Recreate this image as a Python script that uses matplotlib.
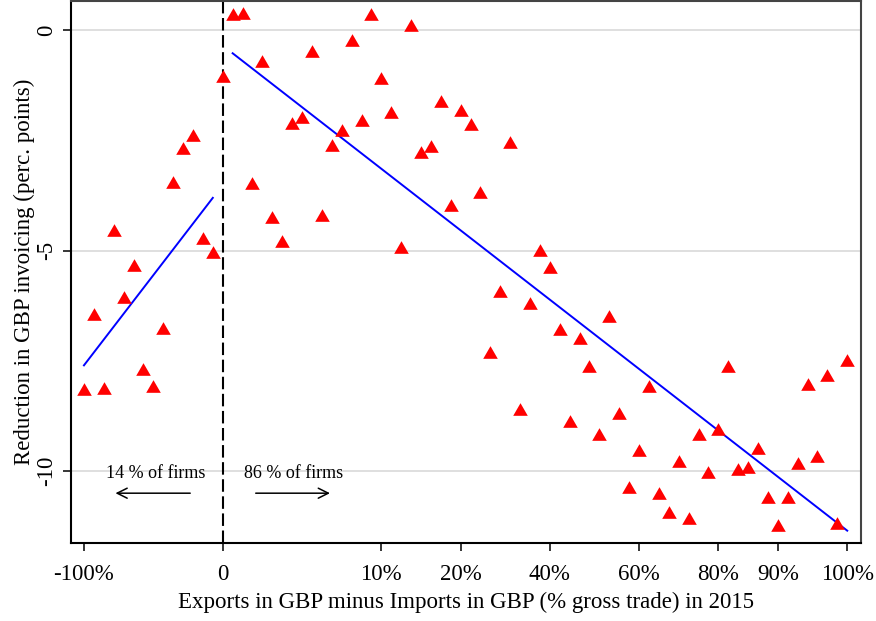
import numpy as np
import matplotlib
matplotlib.use('Agg')
import matplotlib.pyplot as plt

plt.rcParams['font.family'] = ['Liberation Serif', 'DejaVu Serif']

# binned firms, ordered by net GBP position (x = bin rank)
reduction_left = [
	-8.14, -6.44, -8.12, -4.54, -6.05, -5.33, -7.69, -8.07, -6.76, -3.45,
	-2.68, -2.38, -4.72, -5.03,
]
reduction_zero = [-1.04]
reduction_right = [
	0.36, 0.39, -3.47, -0.70, -4.24, -4.78, -2.11, -1.97, -0.48, -4.20,
	-2.61, -2.27, -0.23, -2.04, 0.36, -1.07, -1.86, -4.92, 0.11, -2.77,
	-2.63, -1.61, -3.97, -1.81, -2.13, -3.67, -7.30, -5.92, -2.54, -8.59,
	-6.19, -4.99, -5.37, -6.78, -8.87, -6.98, -7.62, -9.16, -6.49, -8.68,
	-10.36, -9.52, -8.07, -10.50, -10.93, -9.77, -11.07, -9.16, -10.02, -9.05,
	-7.62, -9.95, -9.91, -9.48, -10.59, -11.22, -10.59, -9.82, -8.03, -9.66,
	-7.82, -11.18, -7.48,
]

# fitted lines (start, end)
fit_left = [-7.6, -3.8]
fit_right = [-0.52, -11.35]

tick_labels = ['-100%', '0', '10%', '20%', '40%', '60%', '80%', '90%', '100%']
tick_bins = [0, 14, 30, 38, 47, 56, 64, 70, 77]

values = np.array(reduction_left + reduction_zero + reduction_right)
bins = np.arange(len(values))
n_left = len(reduction_left)
zero_bin = n_left

fig = plt.figure(figsize=(8.76, 6.21), dpi=100)
ax = fig.add_axes([0.081, 0.1256, 0.902, 0.8724])

for y in [0, -5, -10]:
	ax.axhline(y, color='#dcdcdc', linewidth=1.3, zorder=0)

ax.axvline(zero_bin, color='black', linewidth=1.5, linestyle=(0, (6, 2.2)), zorder=1)

tri = [(-1, -0.866), (1, -0.866), (0, 0.866)]
ax.plot(bins, values, linestyle='none', marker=tri, markersize=10.5,
	color='#ff0000', markeredgewidth=0, zorder=3)

ax.plot([bins[0], bins[n_left - 1]], fit_left, color='#0000ff', linewidth=1.4, zorder=2)
ax.plot([bins[n_left + 1], bins[-1]], fit_right, color='#0000ff', linewidth=1.4, zorder=2)

ax.text(7.2, -10.05, '14 % of firms', ha='center', va='center', fontsize=13)
ax.text(21.1, -10.05, '86 % of firms', ha='center', va='center', fontsize=13)
ax.annotate('', xy=(2.9, -10.5), xytext=(11.0, -10.5),
	arrowprops=dict(arrowstyle='->', color='black', lw=1.1, mutation_scale=18))
ax.annotate('', xy=(25.1, -10.5), xytext=(17.05, -10.5),
	arrowprops=dict(arrowstyle='->', color='black', lw=1.1, mutation_scale=18))

ax.set_xlim(-1.31, 78.4)
ax.set_ylim(-11.63, 0.66)
ax.set_xticks(tick_bins)
ax.set_xticklabels(tick_labels)
ax.set_yticks([0, -5, -10])
ax.set_yticklabels(['0', '-5', '-10'], rotation=90, va='center')
ax.tick_params(direction='out', length=6, width=1.1, labelsize=16.5, color='black')
ax.tick_params(axis='x', pad=9)
ax.tick_params(axis='y', pad=4)

for side in ['left', 'bottom']:
	ax.spines[side].set_linewidth(1.5)
	ax.spines[side].set_color('black')
for side in ['top', 'right']:
	ax.spines[side].set_linewidth(1.5)
	ax.spines[side].set_color('#444444')

ax.set_xlabel('Exports in GBP minus Imports in GBP (% gross trade) in 2015', fontsize=16.5, labelpad=5)
ax.set_ylabel('Reduction in GBP invoicing (perc. points)', fontsize=16.5, labelpad=1)

fig.savefig('out.png', dpi=100)
